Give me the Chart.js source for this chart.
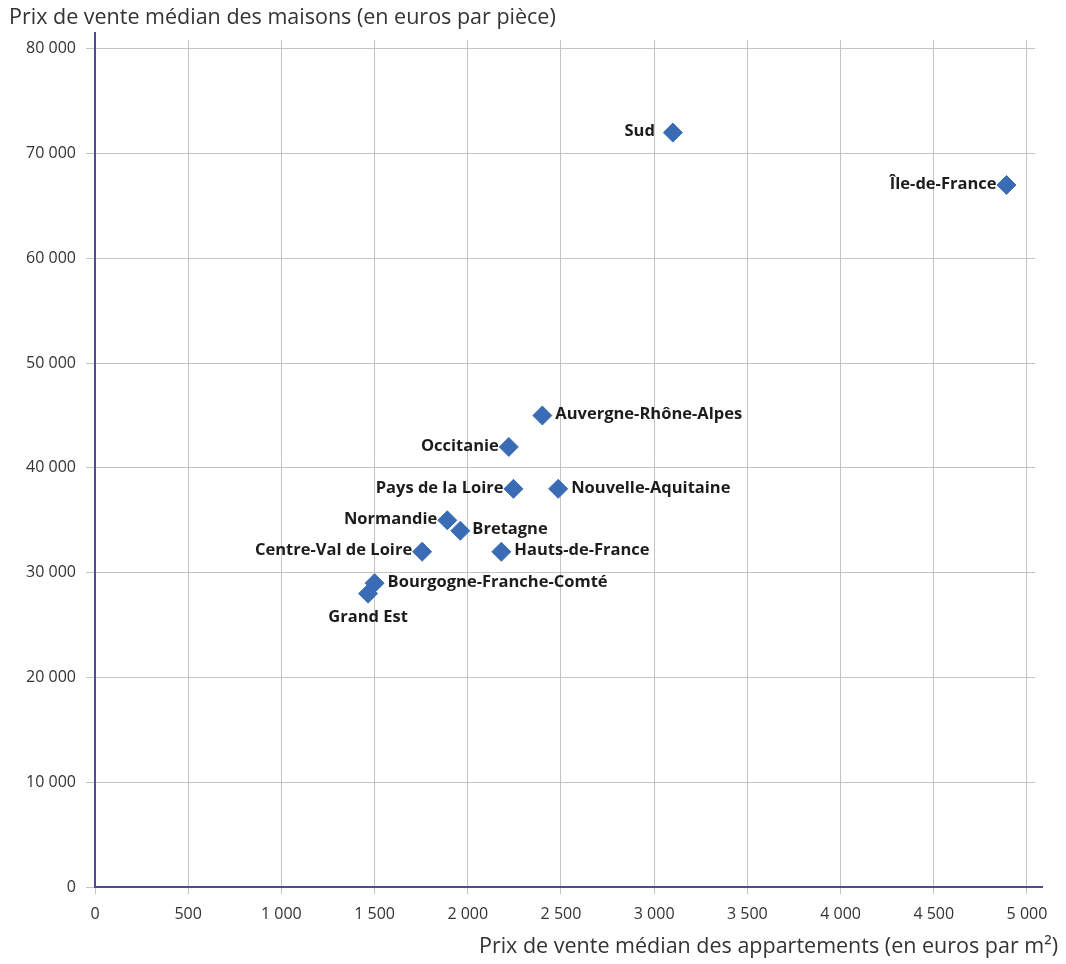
<!DOCTYPE html>
<html lang="fr">
<head>
<meta charset="utf-8">
<script src="https://cdn.jsdelivr.net/npm/chart.js@4/dist/chart.umd.min.js"></script>
<style>
  html, body { margin: 0; padding: 0; background: #ffffff; }
  #wrap { position: relative; width: 1066px; height: 964px; }
  #xtitle { position: absolute; right: 8px; top: 932px; font: 21.5px/26px "Open Sans", sans-serif; color: #333333; white-space: nowrap; }
</style>
</head>
<body>
<div id="wrap">
  <canvas id="c" width="1066" height="964"></canvas>
  <div id="xtitle">Prix de vente médian des appartements (en euros par m²)</div>
</div>
<script>
// Régions
const regions = [
  "Sud", "Île-de-France", "Auvergne-Rhône-Alpes", "Occitanie",
  "Pays de la Loire", "Nouvelle-Aquitaine", "Normandie", "Bretagne",
  "Centre-Val de Loire", "Hauts-de-France", "Bourgogne-Franche-Comté", "Grand Est"
];
// Prix de vente médian des appartements (euros par m²)
const apartPrice = [3100, 4890, 2400, 2220, 2245, 2485, 1890, 1960, 1755, 2180, 1500, 1465];
// Prix de vente médian des maisons (euros par pièce)
const housePrice = [72000, 67000, 45000, 42000, 38000, 38000, 35000, 34000, 32000, 32000, 29000, 28000];
// Ticks
const xTicks = [0, 500, 1000, 1500, 2000, 2500, 3000, 3500, 4000, 4500, 5000];
const yTicks = [0, 10000, 20000, 30000, 40000, 50000, 60000, 70000, 80000];

// Label placement (style, not data)
const labelPlacement = {
  "Sud": ["left", 18], "Île-de-France": ["left", 10], "Auvergne-Rhône-Alpes": ["right", 13],
  "Occitanie": ["left", 10], "Pays de la Loire": ["left", 10], "Nouvelle-Aquitaine": ["right", 13],
  "Normandie": ["left", 10], "Bretagne": ["right", 12], "Centre-Val de Loire": ["left", 10],
  "Hauts-de-France": ["right", 13], "Bourgogne-Franche-Comté": ["right", 13], "Grand Est": ["below", 24]
};

const fmt = v => String(v).replace(/\B(?=(\d{3})+(?!\d))/g, " ");
const AXIS_COLOR = "#4b4b98";

// Axis lines drawn slightly past the grid, as in the original
const axisLines = {
  id: "axisLines",
  beforeDatasetsDraw(chart) {
    const { ctx, chartArea } = chart;
    ctx.save();
    ctx.strokeStyle = AXIS_COLOR;
    ctx.lineWidth = 2;
    ctx.beginPath();
    ctx.moveTo(chartArea.left, chartArea.top - 8);
    ctx.lineTo(chartArea.left, chartArea.bottom);
    ctx.lineTo(chartArea.right + 8, chartArea.bottom);
    ctx.stroke();
    ctx.restore();
  }
};

const pointLabels = {
  id: "pointLabels",
  afterDatasetsDraw(chart) {
    const ctx = chart.ctx;
    const meta = chart.getDatasetMeta(0);
    ctx.save();
    ctx.font = "bold 16.5px 'Open Sans', sans-serif";
    ctx.fillStyle = "#1c1c1c";
    ctx.textBaseline = "middle";
    meta.data.forEach((pt, i) => {
      const name = regions[i];
      const [side, gap] = labelPlacement[name];
      if (side === "right") { ctx.textAlign = "left"; ctx.fillText(name, pt.x + gap, pt.y - 1); }
      else if (side === "left") { ctx.textAlign = "right"; ctx.fillText(name, pt.x - gap, pt.y - 1); }
      else { ctx.textAlign = "center"; ctx.fillText(name, pt.x, pt.y + gap); }
    });
    ctx.restore();
  }
};

const points = apartPrice.map((x, i) => ({ x: x, y: housePrice[i] }));

new Chart(document.getElementById("c"), {
  type: "scatter",
  data: {
    datasets: [{
      label: "Régions",
      data: points,
      pointStyle: "rectRot",
      pointRadius: 9.5,
      pointHoverRadius: 9.5,
      backgroundColor: "#3a6cb5",
      borderColor: "#3a6cb5",
      borderWidth: 1
    }]
  },
  options: {
    responsive: false,
    animation: false,
    layout: { padding: { left: 9, right: 31, top: 8, bottom: 37 } },
    plugins: {
      legend: { display: false },
      tooltip: { enabled: false },
      title: {
        display: true,
        text: "Prix de vente médian des maisons (en euros par pièce)",
        align: "start",
        color: "#333333",
        font: { family: "'Open Sans', sans-serif", size: 21.5, weight: "normal" },
        padding: { top: -2.9, bottom: 9.1 }
      }
    },
    scales: {
      x: {
        type: "linear",
        min: 0,
        max: 5043,
        afterBuildTicks: s => { s.ticks = xTicks.map(v => ({ value: v })); },
        afterFit: s => { s.height = 40; },
        ticks: {
          callback: v => fmt(v),
          color: "#333333",
          padding: 10.4,
          maxRotation: 0,
          font: { family: "'Open Sans', sans-serif", size: 16 }
        },
        grid: { color: "#c4c4c4", lineWidth: 1, tickLength: 7 },
        border: { display: false }
      },
      y: {
        type: "linear",
        min: 0,
        max: 80840,
        afterBuildTicks: s => { s.ticks = yTicks.map(v => ({ value: v })); },
        afterFit: s => { s.width = 86; },
        ticks: {
          callback: v => fmt(v),
          color: "#333333",
          padding: 10,
          font: { family: "'Open Sans', sans-serif", size: 16 }
        },
        grid: { color: "#c4c4c4", lineWidth: 1, tickLength: 9 },
        border: { display: false }
      }
    }
  },
  plugins: [axisLines, pointLabels]
});
</script>
</body>
</html>
